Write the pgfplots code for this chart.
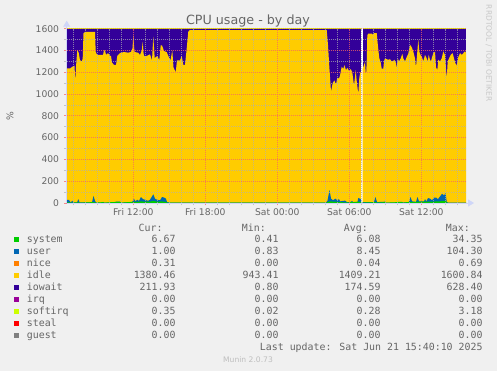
\documentclass[border=0pt]{standalone}
\usepackage{fontspec}
\setmainfont{DejaVu Sans}
\newfontfamily\monofont{DejaVu Sans Mono}
\usepackage{pgfplots}
\pgfplotsset{compat=1.18}
\usetikzlibrary{arrows.meta,backgrounds}
\definecolor{bg}{HTML}{F0F0F0}
\definecolor{fontc}{HTML}{666666}
\definecolor{axisc}{HTML}{CFD6F8}
\definecolor{csystem}{HTML}{00CC00}
\definecolor{cuser}{HTML}{0066B3}
\definecolor{cnice}{HTML}{FF8000}
\definecolor{cidle}{HTML}{FFCC00}
\definecolor{ciowait}{HTML}{330099}
\definecolor{cirq}{HTML}{990099}
\definecolor{csoftirq}{HTML}{CCFF00}
\definecolor{csteal}{HTML}{FF0000}
\definecolor{cguest}{HTML}{808080}
\definecolor{mgridc}{rgb}{0.96,0.4,0.4}
\definecolor{gridc}{HTML}{B0B0B0}

\begin{document}
\begin{tikzpicture}[x=1pt,y=1pt]
\begin{axis}[
  anchor=south west,
  scale only axis, width=399.3pt, height=174.3pt,
  xmin=6.45, xmax=39.725, ymin=0, ymax=1600,
  axis background/.style={fill=white},
  axis lines=left,
  axis line style={draw=axisc, line width=0.9pt},
  x axis line style={-{Triangle[width=7pt,length=6pt]}, shorten >=-8pt},
  y axis line style={-{Triangle[width=7pt,length=6pt]}, shorten >=-8pt},
  axis on top,
  ytick={0,200,...,1600},
  minor ytick={100,300,...,1500},
  xtick={12,18,24,30,36},
  xticklabels={Fri 12:00, Fri 18:00, Sat 00:00, Sat 06:00, Sat 12:00},
  minor xtick={7,8,9,10,11,13,14,15,16,17,19,20,21,22,23,25,26,27,28,29,31,32,33,34,35,37,38,39},
  grid=both,
  major grid style={draw=mgridc, draw opacity=0.75, dash pattern=on 1pt off 1pt, line width=0.7pt},
  minor grid style={draw=gridc, draw opacity=0.7, dash pattern=on 1pt off 1pt, line width=0.7pt},
  tick align=outside,
  major tick length=2.5pt, minor tick length=2.5pt,
  major tick style={draw=mgridc, draw opacity=0.75, line width=0.7pt},
  minor tick style={draw=gridc, draw opacity=0.7, line width=0.7pt},
  /pgf/number format/assume math mode=true,
  /pgf/number format/1000 sep={},
  tick label style={font=\fontsize{9.2}{10}\selectfont, text=fontc},
  y tick label style={anchor=east, inner sep=0pt, xshift=-4.9pt},
  x tick label style={anchor=north, inner sep=0pt, yshift=-3.2pt},
]
\coordinate (O) at (rel axis cs:0,0);
% iowait (top of stack, cumulative)
\addplot[fill=ciowait, draw=none] coordinates {(6.45,1597) (30.975,1597)} \closedcycle;
\addplot[fill=ciowait, draw=none] coordinates {(31.117,1597) (39.725,1597)} \closedcycle;
% idle (cumulative top of system+user+nice+idle)
\addplot[fill=cidle, draw=none] table {
6.45 1235
6.725 1235
6.975 1255
7.10 1260
7.167 1115
7.225 1250
7.333 1405
7.45 1380
7.559 1310
7.725 1300
7.784 1330
7.85 1557
7.975 1570
8.809 1570
8.867 1389
8.975 1360
9.475 1360
9.559 1400
9.642 1400
9.725 1360
9.892 1375
10.059 1350
10.142 1350
10.225 1290
10.392 1267
10.559 1267
10.667 1350
10.892 1377
11.225 1386
11.559 1380
11.809 1386
11.934 1420
12.0 1542
12.075 1420
12.117 1386
12.392 1380
12.559 1360
12.709 1400
12.784 1480
12.85 1380
12.892 1350
13.117 1350
13.392 1365
13.559 1310
13.667 1528
13.784 1330
13.892 1340
14.0 1350
14.167 1310
14.284 1447
14.392 1447
14.559 1395
14.784 1385
14.917 1350
15.1 1310
15.25 1400
15.35 1245
15.534 1200
15.642 1310
15.892 1310
16.034 1350
16.167 1267
16.309 1267
16.434 1400
16.584 1575
16.725 1588
28.06 1588
28.117 1588
28.225 1450
28.334 1251
28.475 1022
28.617 1100
28.75 1125
28.892 1090
29.0 1150
29.142 1143
29.225 1170
29.367 1251
29.5 1230
29.584 1266
29.725 1220
29.834 1240
30.0 1210
30.117 1230
30.25 1200
30.392 1077
30.534 1220
30.617 1120
30.75 1000
30.834 1150
30.917 1200
30.975 1200
} \closedcycle;
\addplot[fill=cidle, draw=none] table {
31.117 1233
31.309 1294
31.392 1157
31.45 1290
31.5 1540
31.584 1555
31.867 1555
31.95 1545
32.059 1560
32.284 1560
32.334 1500
32.417 1410
32.5 1327
32.617 1290
32.7 1233
32.834 1233
32.892 1300
32.975 1327
33.117 1320
33.25 1315
33.392 1320
33.534 1300
33.667 1305
33.75 1315
33.892 1285
33.95 1233
34.034 1327
34.142 1300
34.284 1327
34.417 1370
34.5 1327
34.642 1300
34.784 1340
34.917 1370
35.059 1453
35.2 1430
35.334 1390
35.475 1327
35.559 1245
35.667 1390
35.75 1500
35.834 1390
35.95 1355
36.034 1345
36.167 1300
36.309 1360
36.45 1327
36.534 1300
36.617 1360
36.725 1315
36.809 1300
36.867 1327
37.0 1375
37.142 1390
37.225 1245
37.334 1220
37.417 1315
37.559 1300
37.7 1327
37.834 1392
37.975 1360
38.117 1141
38.2 1300
38.309 1327
38.45 1360
38.617 1375
38.725 1327
38.834 1285
38.95 1260
39.084 1340
39.225 1375
39.367 1360
39.5 1375
39.642 1392
39.725 1380
} \closedcycle;
% user (cumulative system+user)
\addplot[fill=cuser, draw=none] table {
6.45 30
6.64 28
6.77 5
6.93 20
7.02 5
7.31 5
7.42 35
7.52 5
8.56 5
8.68 65
8.81 20
8.89 4
9.40 4
9.48 10
9.56 4
10.48 4
10.56 12
10.89 12
10.98 4
11.89 6
12.06 38
12.18 15
12.31 30
12.48 20
12.64 55
12.81 35
12.98 30
13.23 20
13.39 30
13.67 80
13.81 40
13.98 30
14.23 25
14.39 55
14.56 50
14.72 40
14.81 8
15.06 4
28.06 4
28.18 20
28.35 118
28.48 40
28.64 25
28.85 40
28.98 25
29.14 35
29.23 15
29.64 22
29.81 8
30.14 10
30.23 20
30.31 8
30.68 10
30.75 45
30.89 40
30.975 30
} \closedcycle;
\addplot[fill=cuser, draw=none] table {
31.117 8
32.06 8
32.18 55
32.31 8
32.98 12
33.06 4
34.00 4
34.06 10
34.39 10
34.47 4
34.98 8
35.10 55
35.23 15
35.56 10
35.68 55
35.81 15
36.23 15
36.31 35
36.43 15
36.56 45
36.73 40
36.89 25
37.06 50
37.23 50
37.39 35
37.56 60
37.73 85
37.89 70
38.02 90
38.12 10
38.23 3
39.725 3
} \closedcycle;
% system
\addplot[fill=csystem, draw=none] table {
6.45 6
6.64 6
6.77 3
7.42 6
7.52 3
8.68 8
8.89 3
9.48 8
9.56 3
10.56 10
10.89 10
10.98 3
12.06 12
12.31 10
12.64 15
12.98 12
13.39 12
13.67 20
13.98 12
14.39 15
14.72 10
14.81 4
15.06 3
28.06 3
28.35 15
28.85 12
29.23 8
29.81 5
30.75 12
30.975 10
} \closedcycle;
\addplot[fill=csystem, draw=none] table {
31.117 4
32.18 8
32.31 4
32.98 8
33.06 3
34.06 8
34.39 8
34.47 3
35.10 12
35.23 8
35.68 12
36.56 12
37.06 12
37.23 15
37.56 15
37.73 20
38.02 20
38.12 5
38.23 2
39.725 2
} \closedcycle;
% softirq (thin band on top)
\addplot[draw=csoftirq, line width=1.2pt] coordinates {(6.45,1598.5) (30.975,1598.5)};
\addplot[draw=csoftirq, line width=1.2pt] coordinates {(31.117,1598.5) (39.725,1598.5)};
\end{axis}

% everything else in image pixel coordinates (origin top-left, y down)
\begin{scope}[shift={(O)}, shift={(-66.7,203)}, yscale=-1]
\begin{scope}[on background layer]
\fill[bg] (0,0) rectangle (497,371);
\end{scope}
\pgfresetboundingbox
\useasboundingbox (0,0) rectangle (497,371);

\node[anchor=base, inner sep=0pt, text=fontc, font=\fontsize{12.7}{14}\selectfont] at (248,24.3) {CPU usage - by day};
\node[rotate=90, inner sep=0pt, text=fontc, font=\fontsize{9.2}{10}\selectfont] at (10,115.9) {\%};
\node[rotate=-90, inner sep=0pt, text={rgb,255:red,200;green,200;blue,200}, font=\fontsize{7.5}{8}\selectfont] at (488.8,53.3) {RRDTOOL / TOBI OETIKER};

\begin{scope}[every node/.style={inner sep=0pt, text=fontc, font=\monofont\fontsize{9.9}{11}\selectfont}]
\node[anchor=mid east] at (162.7,229.0) {Cur:};
\node[anchor=mid east] at (266.0,229.0) {Min:};
\node[anchor=mid east] at (368.0,229.0) {Avg:};
\node[anchor=mid east] at (470.0,229.0) {Max:};
\foreach \y/\c/\n/\a/\b/\d/\e in {
  239.7/csystem/system/6.67/0.41/6.08/34.35,
  251.7/cuser/user/1.00/0.83/8.45/104.30,
  263.7/cnice/nice/0.31/0.00/0.04/0.69,
  275.7/cidle/idle/1380.46/943.41/1409.21/1600.84,
  287.7/ciowait/iowait/211.93/0.80/174.59/628.40,
  299.7/cirq/irq/0.00/0.00/0.00/0.00,
  311.7/csoftirq/softirq/0.35/0.02/0.28/3.18,
  323.7/csteal/steal/0.00/0.00/0.00/0.00,
  335.7/cguest/guest/0.00/0.00/0.00/0.00} {
  \fill[\c] (14,\y-2.6) rectangle (19.3,\y+2.6);
  \node[anchor=mid west] at (26.7,\y) {\n};
  \node[anchor=mid east] at (175.7,\y) {\a};
  \node[anchor=mid east] at (278.7,\y) {\b};
  \node[anchor=mid east] at (380.7,\y) {\d};
  \node[anchor=mid east] at (482.7,\y) {\e};
}
\node[anchor=mid east] at (482.7,348.2) {Last update: Sat Jun 21 15:40:10 2025};
\end{scope}
\node[inner sep=0pt, text={rgb,255:red,190;green,190;blue,190}, font=\fontsize{7.6}{8}\selectfont] at (248,360) {Munin 2.0.73};
\end{scope}
\end{tikzpicture}
\end{document}
